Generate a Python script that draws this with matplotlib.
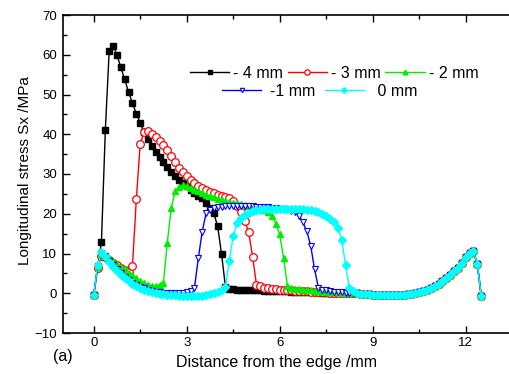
import numpy as np
import matplotlib
matplotlib.use("Agg")
import matplotlib.pyplot as plt
from matplotlib.ticker import MultipleLocator

plt.rcParams['font.family'] = ['Liberation Sans', 'DejaVu Sans']

# sampling positions along the specimen (mm)
x = np.linspace(0, 12.5, 101)

# common right-hand tail (x = 8.5 ... 12.5)
tail = [0.0, -0.15, -0.25, -0.3, -0.35, -0.45, -0.5, -0.55, -0.55, -0.5, -0.5,
        -0.45, -0.4, -0.25, -0.1, 0.1, 0.3, 0.6, 0.9, 1.3, 1.7, 2.3, 3.0, 3.8,
        4.7, 5.5, 6.4, 7.6, 9.0, 10.2, 10.6, 7.3, -0.6]

s_m4 = [-0.5, 6.5, 13.0, 41.0, 61.0, 62.3, 60.0, 56.8, 53.8, 50.6, 47.8, 45.2,
        42.8, 40.5, 38.7, 37.0, 35.6, 34.2, 33.0, 31.8, 30.6, 29.5, 28.6, 27.7,
        26.9, 26.1, 25.2, 24.4, 23.9, 22.8, 21.5, 20.1, 16.8, 9.8, 1.6, 1.1,
        0.95, 0.9, 0.85, 0.8, 0.8, 0.75, 0.7, 0.7, 0.65, 0.6, 0.6, 0.55, 0.5,
        0.5, 0.45, 0.4, 0.4, 0.35, 0.3, 0.3, 0.25, 0.2, 0.2, 0.15, 0.1, 0.1,
        0.05, 0.05, 0.0, 0.0, 0.0, 0.0] + tail

s_m3 = [-0.5, 6.3, 9.4, 9.0, 8.4, 7.7, 7.0, 6.4, 5.9, 5.4, 6.9, 23.6, 37.5,
        40.6, 40.8, 40.1, 39.2, 38.3, 37.3, 36.0, 34.5, 33.0, 31.6, 30.4, 29.4,
        28.6, 27.7, 27.0, 26.4, 25.9, 25.5, 25.1, 24.8, 24.5, 24.2, 23.9, 23.3,
        22.0, 20.4, 18.2, 15.3, 9.2, 2.2, 1.7, 1.4, 1.2, 1.1, 1.0, 0.9, 0.8,
        0.75, 0.7, 0.6, 0.55, 0.5, 0.45, 0.4, 0.35, 0.3, 0.25, 0.2, 0.15, 0.1,
        0.05, 0.0, 0.0, 0.0, 0.0] + tail

s_m2 = [-0.5, 6.5, 10.0, 9.4, 8.8, 8.1, 7.4, 6.7, 6.0, 5.2, 4.5, 3.8, 3.2, 2.6,
        2.2, 1.9, 1.8, 2.1, 2.7, 12.7, 21.4, 25.6, 26.8, 27.2, 27.0, 26.6, 26.1,
        25.6, 25.2, 24.8, 24.4, 24.1, 23.8, 23.5, 23.2, 23.0, 22.8, 22.6, 22.4,
        22.2, 22.0, 21.8, 21.6, 21.3, 21.0, 20.4, 19.5, 17.5, 14.8, 8.8, 1.8,
        1.3, 1.1, 1.0, 0.9, 0.8, 0.7, 0.6, 0.5, 0.45, 0.4, 0.3, 0.25, 0.2, 0.1,
        0.05, 0.0, 0.0] + tail

s_m1 = [-0.5, 6.8, 10.2, 9.4, 8.2, 7.1, 6.1, 5.1, 4.2, 3.4, 2.7, 2.1, 1.6, 1.2,
        0.9, 0.6, 0.4, 0.25, 0.1, 0.05, 0.0, 0.0, 0.0, 0.05, 0.2, 0.6, 1.3, 8.8,
        15.5, 20.1, 21.0, 21.5, 21.7, 21.8, 21.9, 21.9, 22.0, 22.0, 22.0, 22.0,
        21.9, 21.9, 21.8, 21.8, 21.7, 21.6, 21.5, 21.4, 21.3, 21.2, 21.0, 20.8,
        20.4, 19.5, 17.8, 15.6, 12.0, 6.0, 1.4, 0.9, 0.7, 0.5, 0.4, 0.3, 0.2,
        0.1, 0.05, 0.0] + tail

s_0 = [-0.5, 7.0, 10.3, 9.3, 7.8, 6.7, 5.7, 4.7, 3.8, 3.0, 2.3, 1.7, 1.2, 0.8,
       0.5, 0.2, 0.0, -0.15, -0.3, -0.4, -0.5, -0.55, -0.6, -0.65, -0.7, -0.7,
       -0.7, -0.65, -0.6, -0.5, -0.3, -0.05, 0.3, 0.8, 1.5, 8.2, 14.5, 17.6,
       19.0, 19.8, 20.3, 20.6, 20.9, 21.0, 21.1, 21.2, 21.2, 21.3, 21.3, 21.3,
       21.3, 21.3, 21.2, 21.2, 21.1, 21.0, 20.9, 20.7, 20.4, 20.0, 19.4, 18.7,
       17.8, 16.5, 13.5, 7.0, 1.2, 0.5] + tail

labels = ['- 4 mm', '- 3 mm', '- 2 mm', '-1 mm', ' 0 mm']

fig = plt.figure(figsize=(5.09, 3.74), dpi=100)
ax = fig.add_axes([62.7 / 509, 41 / 374, 449.5 / 509, 318 / 374])

styles = [
    dict(color='black', marker='s', ms=3.8, mfc='black', mec='black'),
    dict(color='red', marker='o', ms=5.5, mfc='white', mec='red', mew=0.9),
    dict(color='#00EE00', marker='^', ms=4.8, mfc='#00EE00', mec='#00EE00'),
    dict(color='blue', marker='v', ms=4.5, mfc='white', mec='blue', mew=0.8),
    dict(color='cyan', marker='D', ms=4.0, mfc='cyan', mec='cyan'),
]
series = [s_m4, s_m3, s_m2, s_m1, s_0]
handles = []
for ys, st, lab in zip(series, styles, labels):
    h, = ax.plot(x, ys, lw=1.0, label=lab, **st)
    handles.append(h)

ax.set_xlim(-1, 13.5)
ax.set_ylim(-10, 70)
ax.xaxis.set_major_locator(MultipleLocator(3))
ax.xaxis.set_minor_locator(MultipleLocator(1.5))
ax.yaxis.set_major_locator(MultipleLocator(10))
ax.yaxis.set_minor_locator(MultipleLocator(5))
ax.tick_params(which='both', direction='in', top=True, right=False,
               labelsize=9.5, width=1.0)
ax.tick_params(axis='x', pad=3)
ax.tick_params(axis='y', pad=4)
ax.tick_params(which='major', length=5)
ax.tick_params(which='minor', length=3)
ax.spines['right'].set_visible(False)
for sp in ['left', 'bottom', 'top']:
    ax.spines[sp].set_linewidth(1.2)

ax.set_xlabel('Distance from the edge /mm', fontsize=11.5)
ax.xaxis.set_label_coords((276.7 - 62.7) / 449.5, -(362 - 333) / 318)
ax.xaxis.label.set_va('center')
ax.set_ylabel('Longitudinal stress Sx /MPa', fontsize=11)
ax.yaxis.set_label_coords(-(62.7 - 25) / 449.5, (333 - 171) / 318)
ax.yaxis.label.set_va('center')

fig.text(53 / 509, 1 - 357 / 374, '(a)', fontsize=11.5, va='center', ha='left')

leg1 = ax.legend(handles[:3], labels[:3], ncol=3, frameon=False,
                 loc='center left', bbox_to_anchor=(190 / 509, 1 - 73 / 374),
                 bbox_transform=fig.transFigure, borderpad=0, borderaxespad=0,
                 handlelength=2.45, handletextpad=0.25, columnspacing=0.3,
                 numpoints=1, markerscale=0.7, fontsize=11.5)
ax.add_artist(leg1)
ax.legend(handles[3:], labels[3:], ncol=2, frameon=False,
          loc='center left', bbox_to_anchor=(222 / 509, 1 - 91 / 374),
          bbox_transform=fig.transFigure, borderpad=0, borderaxespad=0,
          handlelength=2.45, handletextpad=0.55, columnspacing=0.6,
          numpoints=1, markerscale=0.7, fontsize=11.5)

fig.savefig('out.png', dpi=100)
